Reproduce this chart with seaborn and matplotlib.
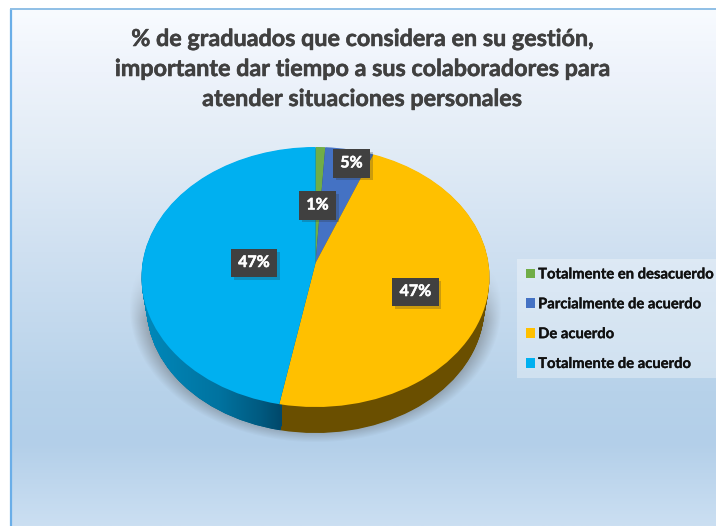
import numpy as np
import seaborn as sns
import matplotlib
matplotlib.use('Agg')
import matplotlib.pyplot as plt
import matplotlib.patheffects as pe
from matplotlib.colors import LinearSegmentedColormap
from matplotlib.patches import Rectangle
from matplotlib.path import Path
from matplotlib.transforms import Transform

# Chart data
categories = ['Totalmente en desacuerdo', 'Parcialmente de acuerdo', 'De acuerdo', 'Totalmente de acuerdo']
values = [1, 5, 47, 47]
pct_labels = ['1%', '5%', '47%', '47%']
title_text = ('% de graduados que considera en su gestión,\n'
              'importante dar tiempo a sus colaboradores para\n'
              'atender situaciones personales')

# Styles and layout, in image pixels
top_colors = sns.color_palette(['#70ad47', '#4472c4', '#ffc000', '#00b0f0'])
side_colors = sns.color_palette(['#3f6128', '#27427a', '#6a4f00', '#00628a'])
label_xy = [(317.5, 205.5), (351.5, 163.5), (415.5, 292), (254, 263)]
W, H = 716, 526
APEX_X, APEX_Y = 315.5, 263
SCALE_X, SCALE_Y, TILT = 173, 128.5, 0.1077
DEPTH, SHRINK = 30.3, 0.03

sns.set_theme(style='white')
plt.rcParams['font.family'] = ['Lato', 'DejaVu Sans']


class Perspective(Transform):
    # unit pie -> tilted disc in pixels; t=0 is the top face, t=1 the bottom one
    input_dims = output_dims = 2
    is_affine = False
    has_inverse = False

    def __init__(self, t=0.0):
        super().__init__()
        self.t = t

    def transform_non_affine(self, xy):
        xy = np.asarray(xy, dtype=float)
        s = 1 - SHRINK * self.t
        w = 1 + TILT * xy[:, 1]
        return np.column_stack([APEX_X + s * SCALE_X * xy[:, 0] / w,
                                APEX_Y + DEPTH * self.t - s * SCALE_Y * xy[:, 1] / w])


def gradient(stops):
    return LinearSegmentedColormap.from_list('g', stops)


fig = plt.figure(figsize=(W / 100, H / 100), dpi=100, facecolor='white')
ax = fig.add_axes([0, 0, 1, 1])

# Panel background
bg = gradient([(0.0, '#f8fbff'), (0.12, '#eef3fb'), (0.27, '#e2ecf6'), (0.47, '#cfe0f1'),
               (0.74, '#b7d2ea'), (0.84, '#b3cfe9'), (1.0, '#cbdff2')])
ax.imshow(np.linspace(0, 1, 256)[:, None], cmap=bg, extent=(11, W, H, 9), aspect='auto', zorder=0)
ax.plot([11, 11], [9, H], color='#6aaee8', lw=1.6, zorder=1, solid_capstyle='butt')
ax.plot([10, W], [9, 9], color='#8fbfe6', lw=1.4, zorder=1, solid_capstyle='butt')

# Soft shadow under the pie
yy, xx = np.mgrid[0:H, 0:W]
d = np.sqrt(((xx - 315) / 186.0) ** 2 + ((yy - 308) / 134.0) ** 2)
shadow = np.clip((1.0 - d) / 0.1, 0, 1) * np.clip((yy - 270) / 50.0, 0, 1)
rgba = np.zeros((H, W, 4))
rgba[..., :3] = 0.3
rgba[..., 3] = 0.4 * shadow
ax.imshow(rgba, extent=(0, W, H, 0), aspect='auto', zorder=2)

# Side of the disc: stacked pies, deepest first
no_edge = {'linewidth': 0, 'edgecolor': 'none'}
cyan_paths = []
layers = np.linspace(1, 0.02, 40)
for i, t in enumerate(layers):
    side, _ = ax.pie(values, colors=side_colors, startangle=90, counterclock=False, radius=1, wedgeprops=no_edge)
    tr = Perspective(t)
    for w in side:
        w.set_transform(tr + ax.transData)
        w.set_zorder(3 + i * 0.001)
    cyan_paths.append(tr.transform_path(side[3].get_path()))

# Shaded left part of the side, same wedge shape
side_cmap = gradient([(0.0, '#0089bb'), (0.55, '#0073a0'), (0.85, '#005a80'), (1.0, '#00486a')])
img = ax.imshow(np.linspace(0, 1, 256)[None, :], cmap=side_cmap, extent=(142, 282, 440, 260),
                aspect='auto', zorder=3.5)
img.set_clip_path(Path.make_compound_path(*cyan_paths), ax.transData)

# Top face
top, _ = ax.pie(values, colors=top_colors, startangle=90, counterclock=False, radius=1, wedgeprops=no_edge)
for w in top:
    w.set_transform(Perspective(0.0) + ax.transData)
    w.set_zorder(4)

# Data labels
heavy = [pe.withStroke(linewidth=0.35, foreground='white')]
for txt, (x, y) in zip(pct_labels, label_xy):
    t = ax.text(x, y, txt, color='white', fontsize=11.5, fontweight='bold', ha='center', va='center',
                zorder=6, path_effects=heavy, bbox=dict(boxstyle='square,pad=0.45', fc='#404040', ec='none'))
    t.get_bbox_patch().set_path_effects([pe.withSimplePatchShadow(offset=(2, -2), shadow_rgbFace='#303030', alpha=0.25),
                                         pe.Normal()])

# Legend
ax.add_patch(Rectangle((517, 259), W - 517, 119, fc='white', alpha=0.33, ec='none', zorder=5))
leg = ax.legend(top, categories, loc='upper left', bbox_to_anchor=(526, 267.5), bbox_transform=ax.transData,
                frameon=False, handlelength=0.62, handleheight=0.62, handletextpad=0.2,
                labelspacing=1.07, borderpad=0, borderaxespad=0, labelcolor='#111111',
                prop={'weight': 'bold', 'size': 10.65})
leg.set_zorder(6)
for t in leg.get_texts():
    t.set_path_effects([pe.withStroke(linewidth=0.2, foreground='#111111')])

# Title
ax.text(362, 69.5, title_text, color='#404040', fontsize=16.8, fontweight='bold', ha='center', va='center',
        linespacing=1.53, zorder=6, path_effects=[pe.withStroke(linewidth=0.4, foreground='#404040')])

ax.set_aspect('auto')
ax.set_xlim(0, W)
ax.set_ylim(H, 0)
ax.axis('off')

fig.savefig('out.png', dpi=100)
